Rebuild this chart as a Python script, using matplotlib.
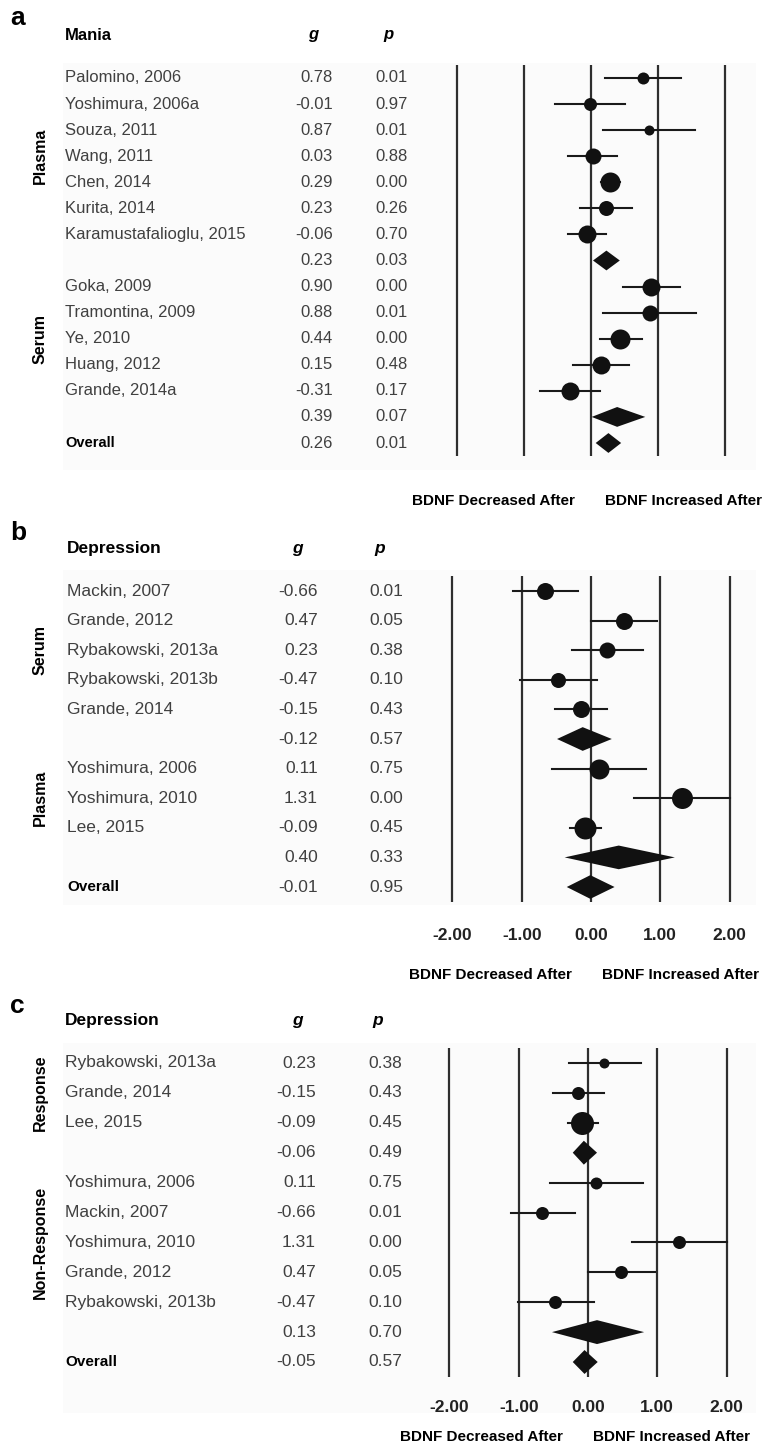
#!/usr/bin/env python3
import numpy as np
import matplotlib
matplotlib.use("Agg")
import matplotlib.pyplot as plt
from matplotlib.patches import Rectangle

plt.rcParams['font.family'] = ['Liberation Sans', 'DejaVu Sans']

W, H = 762, 1446  # figure size in px (dpi 100)

# ---- panel a: mania ----
a_names = ['Palomino, 2006', 'Yoshimura, 2006a', 'Souza, 2011', 'Wang, 2011', 'Chen, 2014',
           'Kurita, 2014', 'Karamustafalioglu, 2015', '',
           'Goka, 2009', 'Tramontina, 2009', 'Ye, 2010', 'Huang, 2012', 'Grande, 2014a', '',
           'Overall']
a_g = [0.78, -0.01, 0.87, 0.03, 0.29, 0.23, -0.06, 0.23, 0.90, 0.88, 0.44, 0.15, -0.31, 0.39, 0.26]
a_p = [0.01, 0.97, 0.01, 0.88, 0.00, 0.26, 0.70, 0.03, 0.00, 0.01, 0.00, 0.48, 0.17, 0.07, 0.01]
a_lo = [0.21, -0.54, 0.18, -0.34, 0.15, -0.16, -0.34, 0.03, 0.48, 0.18, 0.13, -0.27, -0.76, 0.01, 0.07]
a_hi = [1.35, 0.51, 1.55, 0.39, 0.43, 0.61, 0.22, 0.43, 1.33, 1.57, 0.76, 0.57, 0.13, 0.81, 0.45]
a_wt = [6, 6.5, 5, 8, 10, 7.5, 9, 0, 9, 8, 10, 9, 9, 0, 0]
a_kind = ['s'] * 7 + ['d'] + ['s'] * 5 + ['d', 'o']
a_groups = [('Plasma', 0, 6), ('Serum', 8, 12)]

# ---- panel b: depression by sample ----
b_names = ['Mackin, 2007', 'Grande, 2012', 'Rybakowski, 2013a', 'Rybakowski, 2013b', 'Grande, 2014', '',
           'Yoshimura, 2006', 'Yoshimura, 2010', 'Lee, 2015', '', 'Overall']
b_g = [-0.66, 0.47, 0.23, -0.47, -0.15, -0.12, 0.11, 1.31, -0.09, 0.40, -0.01]
b_p = [0.01, 0.05, 0.38, 0.10, 0.43, 0.57, 0.75, 0.00, 0.45, 0.33, 0.95]
b_lo = [-1.13, 0.00, -0.27, -1.02, -0.52, -0.49, -0.56, 0.62, -0.30, -0.38, -0.35]
b_hi = [-0.19, 0.95, 0.75, 0.08, 0.23, 0.30, 0.79, 2.00, 0.14, 1.21, 0.34]
b_wt = [8.5, 8.5, 8, 7.5, 8.5, 0, 10, 10.5, 11, 0, 0]
b_kind = ['s'] * 5 + ['d'] + ['s'] * 3 + ['d', 'o']
b_groups = [('Serum', 0, 4), ('Plasma', 6, 8)]

# ---- panel c: depression by response ----
c_names = ['Rybakowski, 2013a', 'Grande, 2014', 'Lee, 2015', '',
           'Yoshimura, 2006', 'Mackin, 2007', 'Yoshimura, 2010', 'Grande, 2012', 'Rybakowski, 2013b', '',
           'Overall']
c_g = [0.23, -0.15, -0.09, -0.06, 0.11, -0.66, 1.31, 0.47, -0.47, 0.13, -0.05]
c_p = [0.38, 0.43, 0.45, 0.49, 0.75, 0.01, 0.00, 0.05, 0.10, 0.70, 0.57]
c_lo = [-0.27, -0.51, -0.29, -0.22, -0.55, -1.11, 0.64, 0.00, -1.01, -0.52, -0.22]
c_hi = [0.76, 0.23, 0.14, 0.13, 0.79, -0.19, 2.00, 0.97, 0.09, 0.81, 0.14]
c_wt = [5, 6.5, 11.5, 0, 6, 6.5, 6.5, 6.5, 6.5, 0, 0]
c_kind = ['s'] * 3 + ['d'] + ['s'] * 5 + ['d', 'o']
c_groups = [('Response', 0, 2), ('Non-Response', 4, 8)]

grid_x = [-2, -1, 0, 1, 2]
tick_lbl = ['-2.00', '-1.00', '0.00', '1.00', '2.00']

fig = plt.figure(figsize=(W / 100, H / 100), dpi=100)
GRAY = '#404040'


def make_panel(top, bot, zero, unit, row0, drow):
    ax = fig.add_axes([0, 1 - bot / H, 1, (bot - top) / H])
    ax.set_xlim(-zero / unit, (W - zero) / unit)
    ax.set_ylim((bot - row0) / drow, (top - row0) / drow)
    ax.axis('off')
    return ax


def draw_panel(ax, letter, title, names, g, p, lo, hi, wt, kind, groups, L):
    tr = ax.get_yaxis_transform()
    n = len(names)
    fs = L['fs']
    # faint table background
    ax.add_patch(Rectangle((63 / W, L['bg'][0]), 1 - 63 / W - 6 / W, L['bg'][1] - L['bg'][0],
                           transform=tr, color='#fbfbfb', zorder=0, lw=0))
    ax.text(10 / W, L['letter_y'], letter, transform=tr, fontsize=19, fontweight='bold',
            ha='left', va='center')
    hy = L['head_y']
    ax.text(L['name_x'] / W, hy, title, transform=tr, fontsize=fs, fontweight='bold', va='center')
    ax.text(L['gh_x'] / W, hy, 'g', transform=tr, fontsize=fs, fontweight='bold', style='italic',
            ha='center', va='center')
    ax.text(L['ph_x'] / W, hy, 'p', transform=tr, fontsize=fs, fontweight='bold', style='italic',
            ha='center', va='center')
    for i in range(n):
        if kind[i] == 'o':
            ax.text(L['name_x'] / W, i, names[i], transform=tr, fontsize=fs - 1.5, fontweight='bold',
                    va='center')
        else:
            ax.text(L['name_x'] / W, i, names[i], transform=tr, fontsize=fs, color=GRAY, va='center')
        ax.text(L['g_x'] / W, i, f'{g[i]:.2f}', transform=tr, fontsize=fs, color=GRAY,
                ha='right', va='center')
        ax.text(L['p_x'] / W, i, f'{p[i]:.2f}', transform=tr, fontsize=fs, color=GRAY,
                ha='right', va='center')
    for lab, i0, i1 in groups:
        ax.text(40 / W, (i0 + i1) / 2, lab, transform=tr, rotation=90, fontsize=11.5,
                fontweight='bold', ha='center', va='center')
    # reference lines
    ax.vlines(grid_x, -0.5, n - 0.5, color='#2e2e2e', lw=1.6, zorder=1)
    # studies
    rows = np.arange(n)
    for i in rows:
        if kind[i] == 's':
            ax.plot([lo[i], hi[i]], [i, i], color='#1a1a1a', lw=1.5, zorder=2)
            ax.scatter(g[i], i, s=(2 * wt[i] * 0.72) ** 2, color='#111111', zorder=3, lw=0)
        else:
            h = L['dh']
            ax.fill([lo[i], g[i], hi[i], g[i]], [i, i - h, i, i + h], color='#111111', zorder=3, lw=0)
    if L['ticks']:
        for x, t in zip(grid_x, tick_lbl):
            ax.text(x, L['tick_y'], t, fontsize=12.5, fontweight='bold', color='#222222',
                    ha='center', va='center')
    ax.text(L['dec_x'] / W, L['lab_y'], 'BDNF Decreased After', transform=tr, fontsize=11,
            fontweight='bold', ha='right', va='center')
    ax.text(L['inc_x'] / W, L['lab_y'], 'BDNF Increased After', transform=tr, fontsize=11,
            fontweight='bold', ha='left', va='center')


row_a = (443 - 78) / 14
ax_a = make_panel(0, 515, 591, 67, 78, row_a)
draw_panel(ax_a, 'a', 'Mania', a_names, a_g, a_p, a_lo, a_hi, a_wt, a_kind, a_groups,
           dict(fs=12, name_x=65, g_x=333, p_x=408, gh_x=313, ph_x=388,
                head_y=(35 - 78) / row_a, letter_y=(18 - 78) / row_a, dh=0.38,
                ticks=False, tick_y=0, lab_y=(501 - 78) / row_a, dec_x=575, inc_x=605,
                bg=((63 - 78) / row_a, (470 - 78) / row_a)))

row_b = (887 - 591) / 10
ax_b = make_panel(515, 985, 591, 69.3, 591, row_b)
draw_panel(ax_b, 'b', 'Depression', b_names, b_g, b_p, b_lo, b_hi, b_wt, b_kind, b_groups,
           dict(fs=12.5, name_x=67, g_x=318, p_x=403, gh_x=297, ph_x=380,
                head_y=(548 - 591) / row_b, letter_y=(533 - 591) / row_b, dh=0.4,
                ticks=True, tick_y=(935 - 591) / row_b, lab_y=(975 - 591) / row_b,
                dec_x=572, inc_x=602,
                bg=((570 - 591) / row_b, (905 - 591) / row_b)))

row_c = (1362 - 1063) / 10
ax_c = make_panel(985, 1446, 588, 69.3, 1063, row_c)
draw_panel(ax_c, 'c', 'Depression', c_names, c_g, c_p, c_lo, c_hi, c_wt, c_kind, c_groups,
           dict(fs=12.5, name_x=65, g_x=316, p_x=402, gh_x=297, ph_x=378,
                head_y=(1020 - 1063) / row_c, letter_y=(1006 - 1063) / row_c, dh=0.4,
                ticks=True, tick_y=(1407 - 1063) / row_c, lab_y=(1437 - 1063) / row_c,
                dec_x=563, inc_x=593,
                bg=((1043 - 1063) / row_c, (1413 - 1063) / row_c)))

plt.savefig('out.png', dpi=100)
